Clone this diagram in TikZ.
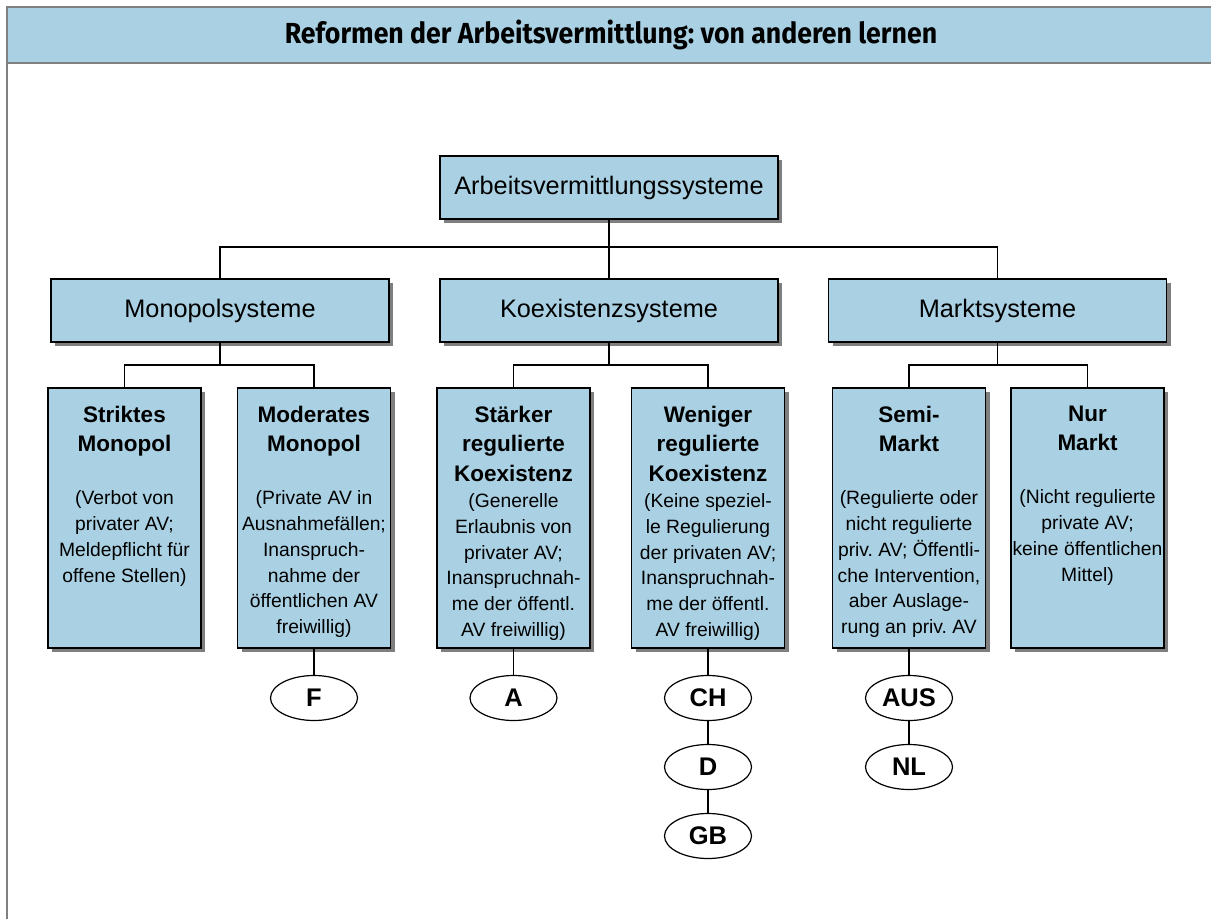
\documentclass[tikz,border=0pt]{standalone}
\usepackage{fontspec}
\setmainfont{Liberation Sans}
\newfontfamily\titlefont[FakeStretch=0.92]{Fira Sans}
\usetikzlibrary{shapes.geometric,shadows}
\definecolor{boxblue}{HTML}{A9D1E3}
\definecolor{shadowgray}{HTML}{7F7F7F}
\definecolor{framegray}{HTML}{808080}
\frenchspacing
\newcommand\boxhead[1]{{\fontsize{22.5}{26}\selectfont\bfseries #1}}
\tikzset{
  bluebox/.style={draw=black, line width=1.2pt, fill=boxblue, inner sep=0pt,
    drop shadow={shadow xshift=4pt, shadow yshift=-4pt, opacity=1, fill=shadowgray, draw=none}},
  headbox/.style={bluebox, minimum width=338pt, minimum height=63pt, font=\fontsize{25.3}{30}\selectfont},
  leafbox/.style={bluebox, minimum width=153pt, minimum height=260pt},
  leaftext/.style={anchor=north, inner sep=0pt, align=center, font=\fontsize{19.3}{25.8}\selectfont\frenchspacing},
  country/.style={ellipse, draw=black, line width=1.2pt, fill=white, minimum width=87pt, minimum height=45pt, inner sep=0pt, font=\fontsize{25.5}{30}\selectfont\bfseries},
  conn/.style={draw=black, line width=1.2pt},
  frameline/.style={draw=framegray, line width=1.5pt},
}
\begin{document}
\begin{tikzpicture}[x=1pt,y=-1pt]
\useasboundingbox (0,0) rectangle (1211,919);
\fill[boxblue] (7,7) rectangle (1211,63);
\draw[frameline] (1211,7) -- (7,7) -- (7,919);
\draw[frameline] (7,63) -- (1211,63);
\node[font=\titlefont\bfseries\fontsize{29}{32}\selectfont] (title) at (611,35) {Reformen der Arbeitsvermittlung: von anderen lernen};

% level 0 and 1
\node[headbox] (root) at (609,187.5) {Arbeitsvermittlungssysteme};
\node[headbox] (mono) at (220,310.5) {Monopolsysteme};
\node[headbox] (koex) at (609,310.5) {Koexistenzsysteme};
\node[headbox] (markt) at (997.5,310.5) {Marktsysteme};

% leaves
\node[leafbox] (strikt) at (124.5,518) {};
\node[leafbox] (moder) at (314,518) {};
\node[leafbox] (staerk) at (513.5,518) {};
\node[leafbox] (wenig) at (708,518) {};
\node[leafbox] (semi) at (909,518) {};
\node[leafbox] (nur) at (1087.5,518) {};

\node[leaftext] (strikt-t) at (124.5,405.5) {\boxhead{Striktes}\\[4pt]\boxhead{Monopol}\\[27pt](Verbot von\\privater AV;\\Meldepflicht für\\offene Stellen)};
\node[leaftext] (moder-t) at (314,405.5) {\boxhead{Moderates}\\[4pt]\boxhead{Monopol}\\[27pt](Private AV in\\Ausnahmefällen;\\Inanspruch-\\nahme der\\öffentlichen AV\\freiwillig)};
\node[leaftext] (staerk-t) at (513.5,405.5) {\boxhead{Stärker}\\[4pt]\boxhead{regulierte}\\[4pt]\boxhead{Koexistenz}\\(Generelle\\Erlaubnis von\\privater AV;\\Inanspruchnah-\\me der öffentl.\\AV freiwillig)};
\node[leaftext] (wenig-t) at (708,405.5) {\boxhead{Weniger}\\[4pt]\boxhead{regulierte}\\[4pt]\boxhead{Koexistenz}\\(Keine speziel-\\le Regulierung\\der privaten AV;\\Inanspruchnah-\\me der öffentl.\\AV freiwillig)};
\node[leaftext] (semi-t) at (909,405.5) {\boxhead{Semi-}\\[4pt]\boxhead{Markt}\\[27pt](Regulierte oder\\nicht regulierte\\priv.\ AV; Öffentli-\\che Intervention,\\aber Auslage-\\rung an priv.\ AV};
\node[leaftext] (nur-t) at (1087.5,405.5) {\boxhead{Nur}\\[4pt]\boxhead{Markt}\\[27pt](Nicht regulierte\\private AV;\\keine öffentlichen\\Mittel)};

% countries
\node[country] (F) at (314,698) {F};
\node[country] (A) at (513.5,698) {A};
\node[country] (CH) at (708,698) {CH};
\node[country] (D) at (708,767) {D};
\node[country] (GB) at (708,836) {GB};
\node[country] (AUS) at (909,698) {AUS};
\node[country] (NL) at (909,767) {NL};

% connectors
\coordinate (j0) at (609,247);
\coordinate (j1) at (220,365);
\coordinate (j2) at (609,365);
\coordinate (j3) at (997.5,365);
\draw[conn] (root.south) -- (koex.north);
\draw[conn] (mono.north) |- (j0) -| (markt.north);
\draw[conn] (mono.south) -- (j1);
\draw[conn] (strikt.north) |- (j1) -| (moder.north);
\draw[conn] (koex.south) -- (j2);
\draw[conn] (staerk.north) |- (j2) -| (wenig.north);
\draw[conn] (markt.south) -- (j3);
\draw[conn] (semi.north) |- (j3) -| (nur.north);
\draw[conn] (moder.south) -- (F.north);
\draw[conn] (staerk.south) -- (A.north);
\draw[conn] (wenig.south) -- (CH.north);
\draw[conn] (CH.south) -- (D.north);
\draw[conn] (D.south) -- (GB.north);
\draw[conn] (semi.south) -- (AUS.north);
\draw[conn] (AUS.south) -- (NL.north);
\end{tikzpicture}
\end{document}
